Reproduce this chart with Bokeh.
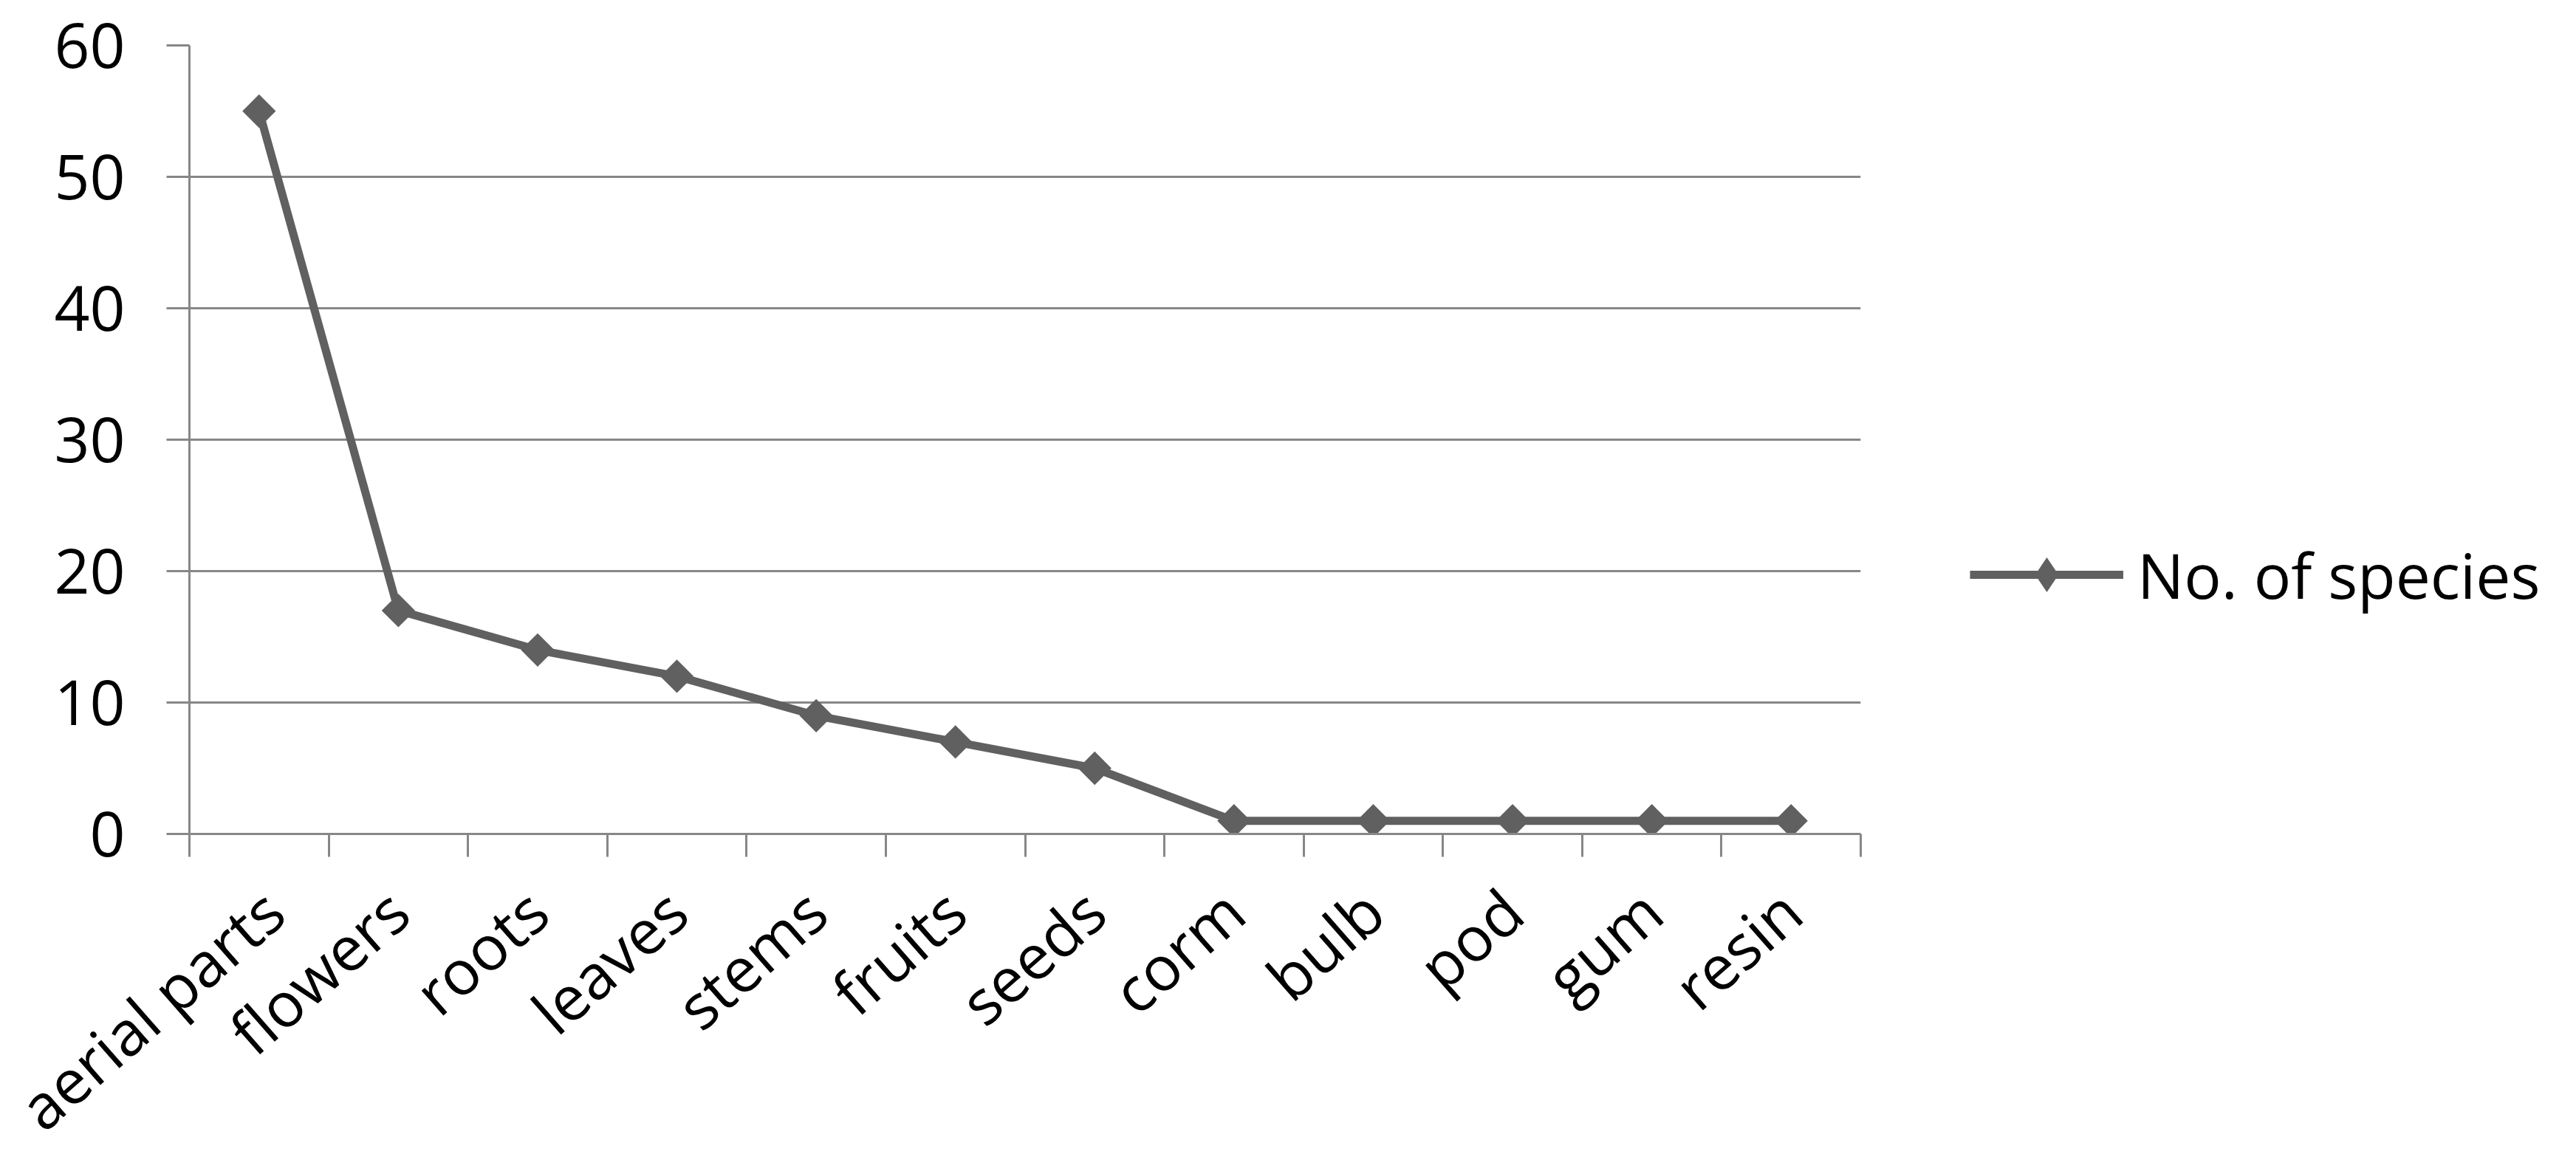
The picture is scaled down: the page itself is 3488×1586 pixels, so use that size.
import numpy as np
from bokeh.plotting import figure
from bokeh.models import Range1d, FixedTicker, Legend, LegendItem
from bokeh.embed import file_html
from bokeh.resources import INLINE

categories = ["aerial parts", "flowers", "roots", "leaves", "stems", "fruits",
              "seeds", "corm", "bulb", "pod", "gum", "resin"]
species = [55, 17, 14, 12, 9, 7, 5, 1, 1, 1, 1, 1]
y_ticks = [0, 10, 20, 30, 40, 50, 60]
series_name = "No. of species"

FONT = "Open Sans"
FS = "84px"
GRID = "#878787"
LINE = "#606060"

n = len(categories)
xs = np.arange(n) + 0.5

p = figure(frame_width=2263, frame_height=1068, output_backend="svg",
           toolbar_location=None,
           x_range=Range1d(0, n), y_range=Range1d(0, 60),
           min_border_left=256, min_border_right=940, min_border_top=61,
           min_border_bottom=420)
p.outline_line_color = None
p.background_fill_color = "white"

r_line = p.line(xs, species, line_color=LINE, line_width=11)
r_pts = p.scatter(xs, species, marker="square", size=32, angle=np.pi / 4,
                  fill_color=LINE, line_color=None)
# legend-only marker (Excel draws a narrow diamond in the legend key)
r_key = p.scatter(xs, species, marker="diamond", size=32,
                  fill_color=LINE, line_color=None, visible=False)

# x axis
xa = p.xaxis[0]
xa.ticker = FixedTicker(ticks=list(xs), minor_ticks=list(range(n + 1)))
xa.major_label_overrides = {float(x): c for x, c in zip(xs, categories)}
xa.major_label_orientation = 0.72
xa.major_tick_out = 0
xa.major_tick_in = 0
xa.minor_tick_out = 31
xa.minor_tick_in = 0
xa.minor_tick_line_color = GRID
xa.minor_tick_line_width = 3
xa.axis_line_color = GRID
xa.axis_line_width = 3
xa.major_label_text_font = FONT
xa.major_label_text_font_size = FS
xa.major_label_text_color = "black"
xa.major_label_standoff = 60

# y axis
ya = p.yaxis[0]
ya.ticker = FixedTicker(ticks=y_ticks)
ya.major_tick_out = 31
ya.major_tick_in = 0
ya.major_tick_line_color = GRID
ya.major_tick_line_width = 3
ya.minor_tick_line_color = None
ya.axis_line_color = GRID
ya.axis_line_width = 3
ya.major_label_text_font = FONT
ya.major_label_text_font_size = FS
ya.major_label_text_color = "black"
ya.major_label_standoff = 56

p.xgrid.grid_line_color = None
p.ygrid.ticker = FixedTicker(ticks=y_ticks)
p.ygrid.grid_line_color = GRID
p.ygrid.grid_line_width = 3

legend = Legend(items=[LegendItem(label=series_name, renderers=[r_line, r_key])],
                location=(148, 292), orientation="vertical",
                glyph_width=208, glyph_height=118, label_standoff=19,
                label_text_font=FONT, label_text_font_size=FS,
                label_text_color="black", padding=0, margin=0, spacing=0,
                border_line_color=None, background_fill_alpha=0)
p.add_layout(legend, "right")

open("out.html", "w").write(file_html(p, INLINE))
